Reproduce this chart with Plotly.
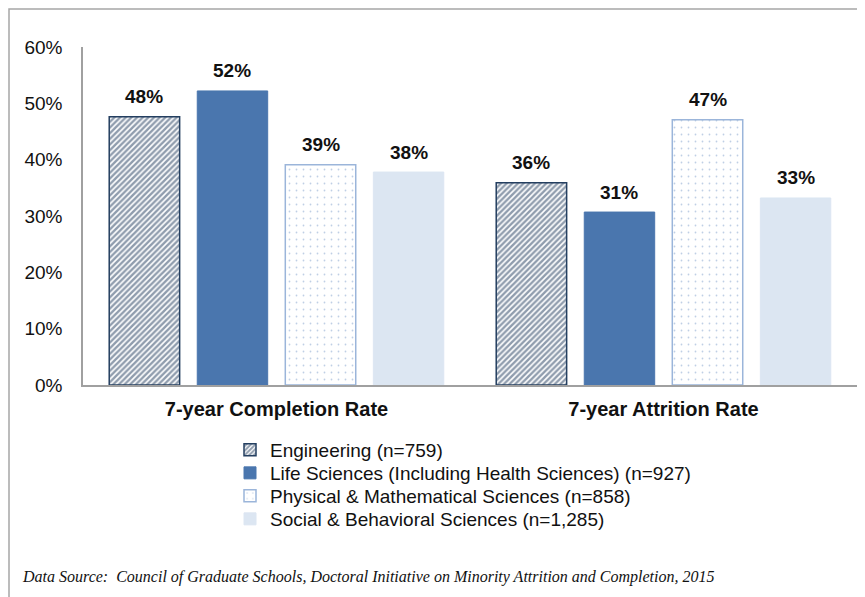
import plotly.graph_objects as go

categories = ["7-year Completion Rate", "7-year Attrition Rate"]
fields = [
    "Engineering (n=759)",
    "Life Sciences (Including Health Sciences) (n=927)",
    "Physical & Mathematical Sciences (n=858)",
    "Social & Behavioral Sciences (n=1,285)",
]
engineering = [0.476, 0.359]
life_sciences = [0.522, 0.307]
physical_math = [0.391, 0.471]
social_behav = [0.378, 0.332]
values = [engineering, life_sciences, physical_math, social_behav]

styles = [
    dict(color="white", line=dict(color="#243F60", width=1.5),
         pattern=dict(shape="/", fgcolor="#1F3A5C", bgcolor="white", size=4, solidity=0.6)),
    dict(color="#4A76AE", line=dict(color="#4A76AE", width=1)),
    dict(color="white", line=dict(color="#9BB5DA", width=1.5),
         pattern=dict(shape=".", fgcolor="#7F9FCC", bgcolor="white", size=7, solidity=0.05)),
    dict(color="#DCE6F2", line=dict(color="#DCE6F2", width=1)),
]

# page has an 8px body margin, so the figure is a bit smaller than the window
W, H = 857, 589
ML, MT, MR, MB = 75, 39, 8, 212
pw, ph = W - ML - MR, H - MT - MB
BARGAP = 0.09


def px(x):
    return (x - ML) / pw


def py(y):
    return (H - MB - y) / ph


legend_rows = [442, 465, 488, 511]
slot = pw / len(categories) * (1 - BARGAP) / len(fields)

fig = go.Figure()
annots = []
for i, (name, vals, st) in enumerate(zip(fields, values, styles)):
    lg = "legend" if i == 0 else "legend%d" % (i + 1)
    fig.add_trace(go.Bar(x=categories, y=vals, name=name, marker=st, legend=lg))
    # value labels sit a bit higher than plotly's "outside" text
    for c, v in zip(categories, vals):
        annots.append(dict(x=c, y=v, xref="x", yref="y", text="%d%%" % round(v * 100),
                           showarrow=False, yanchor="middle", yshift=20,
                           xshift=(i - (len(fields) - 1) / 2) * slot,
                           font=dict(family="Liberation Sans", size=19, color="#111111",
                                     weight="bold")))

legends = {}
for i, yy in enumerate(legend_rows):
    key = "legend" if i == 0 else "legend%d" % (i + 1)
    legends[key] = dict(x=px(222), y=py(yy), xanchor="left", yanchor="middle",
                        font=dict(size=19), bgcolor="rgba(0,0,0,0)")

annots.append(dict(text="Data Source:  Council of Graduate Schools, Doctoral Initiative on Minority Attrition and Completion, 2015",
                   xref="paper", yref="paper", x=px(12), y=py(569),
                   xanchor="left", yanchor="middle", showarrow=False,
                   font=dict(family="Liberation Serif", size=16, color="#111111",
                             style="italic")))

fig.update_layout(
    width=W, height=H,
    margin=dict(l=ML, r=MR, t=MT, b=MB),
    paper_bgcolor="white", plot_bgcolor="white",
    barmode="group", bargap=BARGAP, bargroupgap=0.2,
    font=dict(family="Liberation Sans", size=18, color="#111111"),
    showlegend=True,
    shapes=[dict(type="rect", xref="paper", yref="paper",
                 x0=px(1), x1=1.05, y0=-0.8, y1=py(1),
                 line=dict(color="#A6A6A6", width=1.5))],
    annotations=annots,
    **legends,
)
fig.update_xaxes(showline=True, linecolor="#A0A0A0", linewidth=2, ticks="",
                 tickfont=dict(size=20, weight="bold"), ticklabelstandoff=5)
fig.update_yaxes(range=[0, 0.6], dtick=0.1, tickformat=".0%", showgrid=False,
                 showline=True, linecolor="#A0A0A0", linewidth=1.5, zeroline=False,
                 tickfont=dict(size=19), ticklabelstandoff=15)

fig.write_html("out.html")
